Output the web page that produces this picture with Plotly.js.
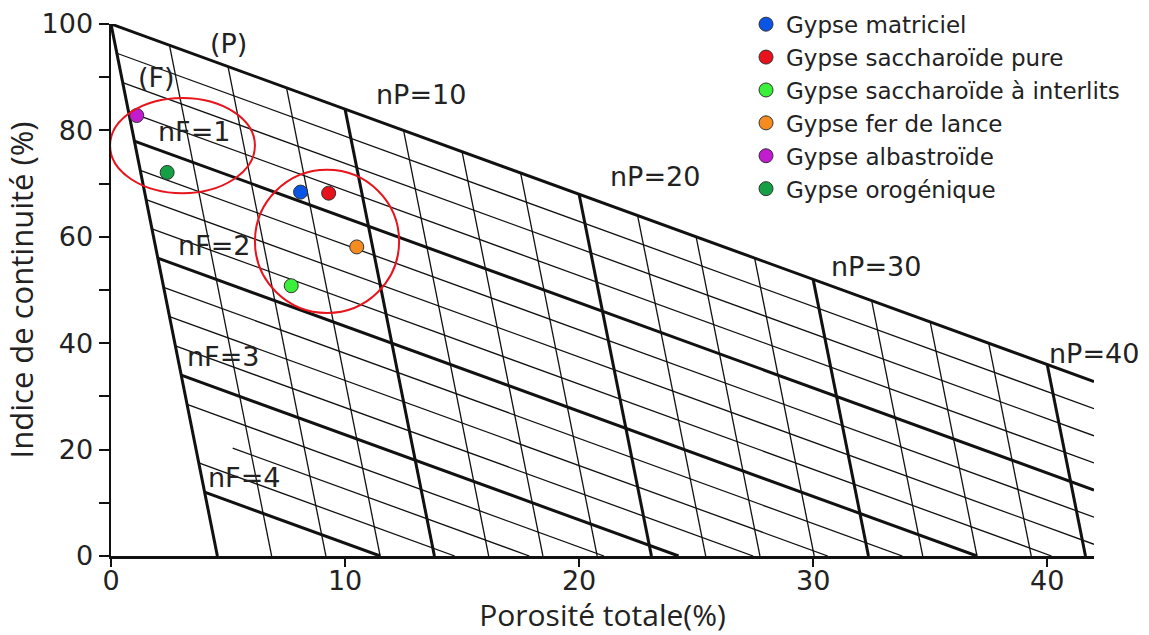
<!DOCTYPE html>
<html>
<head>
<meta charset="utf-8">
<script src="https://cdn.plot.ly/plotly-3.0.1.min.js"></script>
<style>
  html, body { margin: 0; padding: 0; background: #fff; }
  #chart { width: 1149px; height: 635px; }
</style>
</head>
<body>
<div id="chart"></div>
<script>
// ---- Sample points ----
const seriesNames = [
  'Gypse matriciel',
  'Gypse saccharoïde pure',
  'Gypse saccharoïde à interlits',
  'Gypse fer de lance',
  'Gypse albastroïde',
  'Gypse orogénique'
];
const porositeTotale = [8.1, 9.3, 7.7, 10.5, 1.1, 2.4];
const indiceContinuite = [68.4, 68.2, 50.8, 58.1, 82.8, 72.1];
const seriesColors = ['#0a55e6', '#e8121c', '#3af03a', '#f68b1f', '#c21bd0', '#16a045'];

// ---- Nomogram construction: IC = 100 - kP*nP - kF*nF, porosity = nP + nF ----
const icMax = 100;
const kP = 1.6;
const kF = 22;
const porosityEnd = 42;
const nPValues = [0, 2.5, 5, 7.5, 10, 12.5, 15, 17.5, 20, 22.5, 25, 27.5, 30, 32.5, 35, 37.5, 40];
const nPMajor = [0, 10, 20, 30, 40];
const nFValues = [0, 0.25, 0.5, 0.75, 1, 1.25, 1.5, 1.75, 2, 2.25, 2.5, 2.75, 3, 3.25, 3.5, 3.75, 4];
const nFMajor = [0, 1, 2, 3, 4];
const nFStartOverride = { 3.5: 5.2 };   // this line starts later in the original

// ---- Labels ----
const tickX = [0, 10, 20, 30, 40];
const tickY = [0, 10, 20, 30, 40, 50, 60, 70, 80, 90, 100];
const tickYText = ['0', '', '20', '', '40', '', '60', '', '80', '', '100'];
const labelTexts = ['(P)', '(F)', 'nF=1', 'nF=2', 'nF=3', 'nF=4', 'nP=10', 'nP=20', 'nP=30', 'nP=40'];
const labelX = [5.0, 1.95, 3.55, 4.4, 4.78, 5.7, 13.25, 23.25, 32.7, 42.0];
const labelY = [96.4, 90.0, 79.8, 58.4, 37.5, 14.8, 86.7, 71.3, 54.5, 38.0];

// ---- Build grid line traces ----
function steepLine(p) {           // constant nP, varying nF
  const y0 = icMax - kP * p;
  return { xs: [p, p + y0 / kF], ys: [y0, 0] };
}
function shallowLine(f) {         // constant nF, varying nP
  const x0 = f, y0 = icMax - kF * f;
  let xs = x0, ys = y0;
  if (nFStartOverride[f] !== undefined) {
    xs = nFStartOverride[f];
    ys = y0 - kP * (xs - x0);
  }
  let xe = porosityEnd, ye = y0 - kP * (porosityEnd - x0);
  if (ye < 0) { xe = x0 + y0 / kP; ye = 0; }
  return { xs: [xs, xe], ys: [ys, ye] };
}
function collect(values, major, wantMajor, fn) {
  const X = [], Y = [];
  values.forEach(v => {
    if (major.includes(v) !== wantMajor) return;
    const l = fn(v);
    X.push(l.xs[0], l.xs[1], null);
    Y.push(l.ys[0], l.ys[1], null);
  });
  return { X, Y };
}
const gridDefs = [
  [nPValues, nPMajor, false, steepLine, 1.3],
  [nFValues, nFMajor, false, shallowLine, 1.3],
  [nPValues, nPMajor, true, steepLine, 3],
  [nFValues, nFMajor, true, shallowLine, 3]
];
const traces = gridDefs.map(d => {
  const c = collect(d[0], d[1], d[2], d[3]);
  return {
    x: c.X, y: c.Y, type: 'scatter', mode: 'lines',
    line: { color: '#111', width: d[4] },
    hoverinfo: 'skip', showlegend: false, connectgaps: false
  };
});

seriesNames.forEach((name, i) => {
  traces.push({
    x: [porositeTotale[i]], y: [indiceContinuite[i]],
    type: 'scatter', mode: 'markers', name: name,
    marker: { color: seriesColors[i], size: 14, line: { color: '#333', width: 1 } },
    cliponaxis: false
  });
});

const annotations = labelTexts.map((t, i) => ({
  text: t, x: labelX[i], y: labelY[i], xref: 'x', yref: 'y',
  showarrow: false, font: { family: 'DejaVu Sans', size: 27, color: '#222' }
}));

const layout = {
  width: 1149, height: 635,
  margin: { l: 111, r: 55, t: 24, b: 79, autoexpand: false },
  paper_bgcolor: '#fff', plot_bgcolor: '#fff',
  font: { family: 'DejaVu Sans', color: '#222' },
  xaxis: {
    range: [0, 42], showgrid: false, zeroline: false, automargin: false,
    showline: true, linewidth: 2.5, linecolor: '#111',
    ticks: 'outside', ticklen: 8, tickwidth: 2, tickcolor: '#111',
    tickvals: tickX, ticktext: tickX.map(String),
    ticklabelstandoff: -9,
    tickfont: { family: 'DejaVu Sans', size: 27, color: '#222' },
    title: { text: 'Porosité totale(%)', font: { family: 'Open Sans', size: 30, color: '#222' }, standoff: 8 }
  },
  yaxis: {
    range: [0, 100], showgrid: false, zeroline: false, automargin: false,
    showline: true, linewidth: 2.5, linecolor: '#111',
    ticks: 'outside', ticklen: 10, tickwidth: 2, tickcolor: '#111',
    tickvals: tickY, ticktext: tickYText,
    tickfont: { family: 'DejaVu Sans', size: 27, color: '#222' },
    title: { text: 'Indice de continuité (%)', font: { family: 'Open Sans', size: 31, color: '#222' }, standoff: 3 }
  },
  legend: {
    x: 0.646, y: 1.04, xanchor: 'left', yanchor: 'top',
    bgcolor: 'rgba(255,255,255,0)', borderwidth: 0,
    font: { family: 'DejaVu Sans', size: 23, color: '#222' }
  },
  annotations: annotations,
  shapes: [
    { type: 'circle', xref: 'x', yref: 'y', x0: -0.04, x1: 6.15, y0: 68.2, y1: 86.1,
      line: { color: '#e8141c', width: 2 }, layer: 'above' },
    { type: 'circle', xref: 'x', yref: 'y', x0: 6.15, x1: 12.31, y0: 45.7, y1: 72.6,
      line: { color: '#e8141c', width: 2 }, layer: 'above' }
  ],
  showlegend: true
};

Plotly.newPlot('chart', traces, layout, { displayModeBar: false, staticPlot: true });
</script>
</body>
</html>
